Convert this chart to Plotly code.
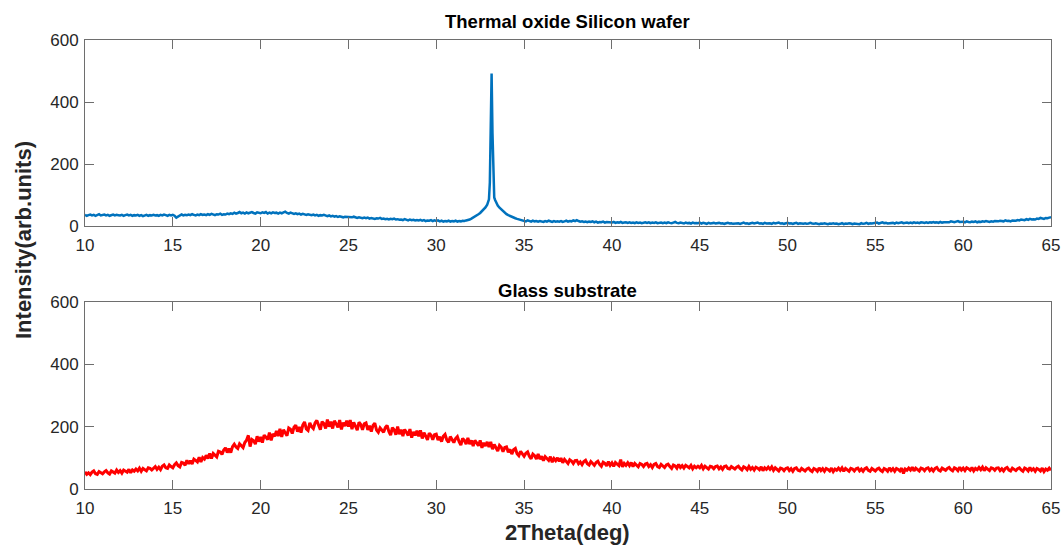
import numpy as np
import plotly.graph_objects as go

# ---- Thermal oxide Si wafer scan (0.1 deg grid on either side of the peak) ----
wafer_lo_start, wafer_lo_stop = 10.0, 32.4
wafer_lo = [
    36, 33, 35, 37, 34, 36, 33, 35, 38, 34,   # 10
    35, 37, 34, 36, 33, 35, 37, 34, 36, 35,   # 11
    34, 36, 33, 35, 37, 34, 36, 33, 35, 34,   # 12
    36, 33, 35, 32, 34, 36, 33, 35, 34, 36,   # 13
    34, 35, 33, 36, 34, 37, 35, 33, 36, 34,   # 14
    36, 33, 27, 31, 35, 37, 34, 36, 35, 37,   # 15
    35, 38, 36, 34, 37, 35, 38, 36, 37, 35,   # 16
    38, 36, 39, 37, 35, 38, 37, 40, 36, 38,   # 17
    37, 40, 38, 41, 39, 43, 40, 42, 45, 41,   # 18
    43, 40, 44, 41, 43, 45, 42, 40, 44, 42,   # 19
    41, 44, 42, 45, 40, 43, 41, 44, 42, 43,   # 20
    40, 43, 41, 44, 46, 42, 40, 43, 41, 39,   # 21
    41, 38, 40, 37, 39, 38, 36, 38, 37, 35,   # 22
    37, 34, 36, 33, 35, 34, 36, 33, 32, 34,   # 23
    31, 33, 30, 32, 29, 31, 30, 28, 30, 29,   # 24
    29, 27, 28, 30, 27, 26, 28, 27, 25, 27,   # 25
    25, 27, 24, 26, 25, 23, 25, 24, 26, 23,   # 26
    24, 22, 23, 21, 23, 22, 24, 21, 22, 20,   # 27
    21, 19, 22, 20, 18, 21, 19, 20, 18, 19,   # 28
    18, 20, 17, 19, 16, 18, 17, 19, 16, 18,   # 29
    16, 18, 15, 17, 14, 16, 15, 17, 14, 16,   # 30
    15, 17, 14, 16, 15, 17, 16, 18, 19, 21,   # 31
    24, 27, 30, 34, 38,                       # 32.0 - 32.4
]

# finer sampling across the Si reflection
peak_x = [32.5, 32.6, 32.7, 32.8, 32.9, 32.95, 33.0, 33.05, 33.1, 33.15,
          33.2, 33.25, 33.3, 33.35, 33.4, 33.5, 33.6, 33.7, 33.8, 33.9]
peak_y = [42, 47, 53, 60, 69, 77, 86, 140, 330, 492,
          300, 130, 92, 84, 76, 66, 59, 53, 47, 42]

wafer_hi_start, wafer_hi_stop = 34.0, 65.0
wafer_hi = [
    38, 35, 32, 30, 28, 25, 23, 21, 19, 18,   # 34
    17, 15, 18, 16, 14, 17, 15, 16, 14, 16,   # 35
    15, 13, 16, 14, 17, 15, 13, 16, 14, 15,   # 36
    14, 16, 13, 15, 17, 14, 16, 15, 18, 16,   # 37
    19, 16, 14, 15, 13, 14, 12, 14, 13, 15,   # 38
    12, 14, 11, 13, 12, 14, 11, 13, 12, 11,   # 39
    11, 13, 10, 12, 11, 13, 10, 11, 12, 10,   # 40
    12, 10, 11, 9, 12, 10, 11, 9, 11, 12,     # 41
    10, 12, 9, 11, 10, 12, 9, 10, 11, 9,      # 42
    11, 9, 12, 10, 9, 11, 13, 10, 9, 11,      # 43
    10, 8, 11, 9, 10, 8, 11, 9, 10, 9,        # 44
    11, 8, 10, 9, 7, 10, 8, 9, 10, 8,         # 45
    9, 10, 8, 9, 7, 9, 10, 8, 9, 7,           # 46
    8, 10, 9, 7, 9, 11, 8, 9, 7, 9,           # 47
    10, 8, 9, 11, 8, 9, 7, 10, 8, 9,          # 48
    9, 7, 10, 8, 9, 11, 8, 9, 7, 8,           # 49
    10, 8, 9, 7, 8, 10, 7, 9, 8, 7,           # 50
    9, 7, 8, 10, 8, 7, 9, 8, 6, 8,            # 51
    7, 9, 8, 6, 8, 7, 9, 7, 8, 6,             # 52
    7, 9, 6, 8, 7, 9, 8, 6, 8, 7,             # 53
    8, 6, 9, 7, 8, 10, 7, 9, 8, 9,            # 54
    9, 11, 8, 10, 12, 9, 10, 8, 9, 10,        # 55
    10, 8, 11, 9, 10, 12, 9, 10, 11, 9,       # 56
    11, 9, 12, 10, 11, 9, 12, 11, 10, 12,     # 57
    10, 12, 11, 13, 11, 12, 10, 13, 11, 12,   # 58
    12, 14, 12, 15, 13, 12, 14, 16, 13, 14,   # 59
    14, 12, 15, 13, 12, 14, 13, 15, 12, 14,   # 60
    13, 15, 14, 16, 14, 13, 15, 14, 16, 15,   # 61
    15, 17, 16, 15, 18, 16, 17, 15, 18, 17,   # 62
    17, 19, 18, 21, 20, 19, 22, 20, 23, 21,   # 63
    22, 21, 24, 23, 26, 24, 23, 26, 25, 27,   # 64
    28,                                       # 65
]

# ---- Glass substrate scan (0.1 deg grid) ----
glass_start, glass_stop = 10.0, 65.0
glass = [
    55, 47, 52, 46, 54, 58, 49, 47, 56, 51,            # 10
    49, 55, 59, 52, 48, 58, 55, 51, 61, 53,            # 11
    59, 51, 61, 58, 54, 63, 52, 61, 57, 64,            # 12
    58, 67, 57, 66, 61, 58, 68, 66, 61, 68,            # 13
    72, 63, 70, 62, 73, 77, 68, 66, 77, 72,            # 14
    68, 78, 84, 75, 71, 85, 83, 76, 92, 81,            # 15
    91, 80, 96, 92, 87, 102, 87, 101, 96, 108,         # 16
    98, 114, 98, 114, 108, 103, 121, 119, 111, 125,    # 17
    132, 117, 130, 117, 136, 144, 135, 130, 145, 140,  # 18
    133, 149, 157, 172, 136, 159, 155, 144, 169, 152,  # 19
    167, 149, 173, 166, 158, 181, 156, 177, 169, 186,  # 20
    170, 193, 167, 190, 179, 171, 196, 192, 178, 198,  # 21
    205, 184, 199, 181, 205, 215, 193, 188, 212, 200,  # 22
    194, 212, 220, 201, 190, 216, 210, 194, 223, 200,  # 23
    216, 194, 219, 209, 198, 221, 191, 213, 202, 219,  # 24
    200, 221, 192, 214, 200, 189, 214, 207, 190, 209,  # 25
    212, 190, 203, 184, 204, 211, 189, 182, 196, 190,  # 26
    182, 197, 204, 185, 173, 197, 190, 174, 200, 176,  # 27
    190, 170, 191, 182, 172, 192, 165, 183, 172, 187,  # 28
    169, 188, 162, 181, 169, 158, 179, 173, 158, 174,  # 29
    176, 157, 168, 152, 169, 175, 157, 150, 168, 156,  # 30
    149, 162, 168, 152, 141, 162, 156, 144, 164, 144,  # 31
    156, 138, 156, 148, 139, 156, 132, 148, 138, 151,  # 32
    135, 151, 128, 143, 132, 122, 140, 134, 120, 133,  # 33
    135, 118, 127, 112, 126, 130, 113, 107, 121, 111,  # 34
    105, 115, 119, 105, 97, 112, 107, 96, 112, 96,     # 35
    105, 91, 104, 98, 92, 104, 86, 98, 91, 100,        # 36
    89, 99, 84, 95, 88, 82, 94, 90, 82, 91,            # 37
    92, 81, 87, 78, 88, 92, 81, 77, 88, 81,            # 38
    76, 85, 89, 79, 73, 86, 82, 74, 88, 76,            # 39
    84, 73, 85, 80, 75, 94, 71, 82, 76, 84,            # 40
    75, 85, 72, 82, 76, 71, 82, 79, 72, 80,            # 41
    82, 72, 78, 69, 79, 82, 72, 69, 79, 73,            # 42
    69, 77, 80, 72, 66, 77, 74, 67, 79, 69,            # 43
    75, 67, 76, 72, 68, 76, 65, 73, 68, 73,            # 44
    68, 76, 65, 73, 69, 64, 73, 71, 65, 72,            # 45
    74, 65, 71, 63, 72, 74, 66, 64, 72, 67,            # 46
    64, 70, 73, 66, 61, 71, 68, 62, 72, 63,            # 47
    69, 61, 70, 67, 62, 71, 59, 68, 63, 70,            # 48
    63, 71, 60, 68, 63, 58, 67, 65, 59, 66,            # 49
    68, 59, 65, 57, 66, 68, 60, 58, 66, 61,            # 50
    58, 64, 67, 60, 56, 66, 63, 57, 68, 59,            # 51
    65, 57, 66, 63, 58, 67, 56, 64, 60, 67,            # 52
    60, 68, 57, 66, 61, 57, 66, 64, 58, 65,            # 53
    67, 58, 64, 57, 65, 68, 60, 57, 66, 61,            # 54
    58, 64, 67, 60, 56, 66, 63, 57, 68, 59,            # 55
    65, 57, 66, 63, 58, 67, 50, 64, 60, 67,            # 56
    61, 70, 58, 67, 62, 58, 67, 65, 59, 66,            # 57
    68, 59, 65, 58, 66, 69, 61, 58, 67, 62,            # 58
    60, 66, 69, 62, 58, 68, 65, 59, 70, 61,            # 59
    67, 59, 68, 65, 60, 69, 58, 66, 62, 69,            # 60
    62, 70, 59, 68, 63, 59, 68, 66, 60, 67,            # 61
    68, 59, 65, 58, 66, 69, 61, 58, 67, 62,            # 62
    59, 65, 68, 61, 57, 67, 64, 58, 69, 60,            # 63
    65, 57, 66, 63, 58, 67, 56, 64, 60, 67,            # 64
    60,                                                # 65
]

titles = ["Thermal oxide Silicon wafer", "Glass substrate"]
x_ticks = list(range(10, 70, 5))
y_ticks = [0, 200, 400, 600]
x_label = "2Theta(deg)"
y_label = "Intensity(arb.units)"

# assemble the scans
x_lo = np.linspace(wafer_lo_start, wafer_lo_stop, len(wafer_lo))
x_hi = np.linspace(wafer_hi_start, wafer_hi_stop, len(wafer_hi))
wafer_x = np.concatenate([x_lo, peak_x, x_hi])
wafer_y = np.concatenate([wafer_lo, peak_y, wafer_hi])
glass_x = np.linspace(glass_start, glass_stop, len(glass))

W, H = 1063, 546


def px(x):
    return x / W


def py(y):
    return 1 - y / H


FONT = "Liberation Sans, Arial, Helvetica, sans-serif"
TXT = "#262626"
LINE = "#6e6e6e"

fig = go.Figure()
fig.add_trace(go.Scatter(x=wafer_x, y=wafer_y, mode="lines",
                         line=dict(color="#0072BD", width=2.5),
                         xaxis="x", yaxis="y", showlegend=False))
fig.add_trace(go.Scatter(x=glass_x, y=glass, mode="lines",
                         line=dict(color="#FF0000", width=3),
                         xaxis="x2", yaxis="y2", showlegend=False))

x_dom = [px(85), px(1051)]
top_dom = [py(226), py(40)]
bot_dom = [py(489), py(302)]

axis_common = dict(showgrid=False, zeroline=False, showline=True, linecolor=LINE,
                   linewidth=1, mirror="ticks", ticks="inside", ticklen=9,
                   tickcolor=LINE, tickwidth=1, automargin=False,
                   ticklabeloverflow="allow",
                   tickfont=dict(family=FONT, size=17, color=TXT))
xaxis_common = dict(axis_common, range=[10, 65], tickvals=x_ticks, domain=x_dom,
                    ticklabelstandoff=4)
yaxis_common = dict(axis_common, range=[0, 600], tickvals=y_ticks, ticklabelstandoff=2)

fig.update_layout(
    width=W, height=H, margin=dict(l=0, r=0, t=0, b=0), autosize=False,
    paper_bgcolor="white", plot_bgcolor="white",
    xaxis=dict(xaxis_common, anchor="y"),
    yaxis=dict(yaxis_common, domain=top_dom, anchor="x"),
    xaxis2=dict(xaxis_common, anchor="y2"),
    yaxis2=dict(yaxis_common, domain=bot_dom, anchor="x2"),
    annotations=[
        dict(text="<b>" + titles[0] + "</b>", x=px(567), y=py(22),
             xanchor="center", yanchor="middle",
             xref="paper", yref="paper", showarrow=False,
             font=dict(family=FONT, size=18.5, color="black")),
        dict(text="<b>" + titles[1] + "</b>", x=px(567), y=py(290),
             xanchor="center", yanchor="middle",
             xref="paper", yref="paper", showarrow=False,
             font=dict(family=FONT, size=18.5, color="black")),
        dict(text="<b>" + x_label + "</b>", x=px(567), y=py(532),
             xanchor="center", yanchor="middle",
             xref="paper", yref="paper", showarrow=False,
             font=dict(family=FONT, size=22, color=TXT)),
        dict(text="<b>" + y_label + "</b>", x=px(23), y=py(240), textangle=-90,
             xanchor="center", yanchor="middle",
             xref="paper", yref="paper", showarrow=False,
             font=dict(family=FONT, size=22, color=TXT)),
    ],
)

# let the figure sit flush in the page
fig.write_html(
    "out.html",
    post_script="document.body.style.margin='0';document.body.style.overflow='hidden';",
)
